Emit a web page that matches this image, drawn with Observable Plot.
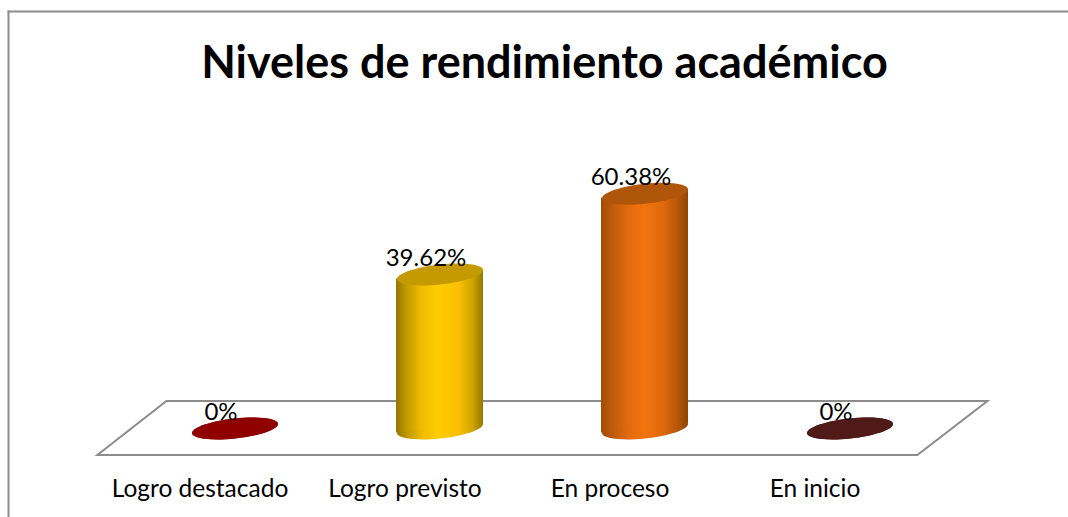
<!DOCTYPE html>
<html>
<head>
<meta charset="utf-8">
<script src="https://cdn.jsdelivr.net/npm/d3@7"></script>
<script src="https://cdn.jsdelivr.net/npm/@observablehq/plot@0.6"></script>
<style>
html,body{margin:0;padding:0;background:#fff;overflow:hidden}
svg{display:block}
</style>
</head>
<body>
<div id="chart"></div>
<script>
const chartTitle = "Niveles de rendimiento académico";
const categories = ["Logro destacado", "Logro previsto", "En proceso", "En inicio"];
const values = [0, 39.62, 60.38, 0];
const valueLabels = ["0%", "39.62%", "60.38%", "0%"];
const bodyColors = ["#8f0000", "url(#grad-yellow)", "url(#grad-orange)", "#4f1a18"];
const capColors = ["#8f0000", "#c49a00", "#b0560a", "#4f1a18"];
const font = "Lato, 'Open Sans', sans-serif";

const rows = categories.map((category, i) => ({
  category, value: values[i], label: valueLabels[i], body: bodyColors[i], cap: capColors[i]
}));

// Sheared ellipse used for the top and the base of each cylinder
const halfW = 43, tilt = 4.5, halfH = 10;
const ellipse = {
  draw(c) {
    const k = 0.5523;
    const pt = (cos, sin) => [halfW * cos, -tilt * cos + halfH * sin];
    const curve = (a, b, e) => c.bezierCurveTo(...pt(...a), ...pt(...b), ...pt(...e));
    c.moveTo(...pt(1, 0));
    curve([1, k], [k, 1], [0, 1]);
    curve([-k, 1], [-1, k], [-1, 0]);
    curve([-1, -k], [-k, -1], [0, -1]);
    curve([k, -1], [1, -k], [1, 0]);
    c.closePath();
  }
};

function gradient(defs, id, stops) {
  const g = defs.append("linearGradient").attr("id", id)
    .attr("x1", 0).attr("x2", 1).attr("y1", 0).attr("y2", 0);
  stops.forEach(([o, col]) => g.append("stop").attr("offset", o).attr("stop-color", col));
}

const gradients = () => {
  const defs = d3.create("svg:defs");
  gradient(defs, "grad-yellow", [[0, "#947600"], [0.12, "#c29a00"], [0.3, "#f0bd00"], [0.48, "#ffcb00"], [0.72, "#f8c000"], [0.88, "#cfa400"], [1, "#957700"]]);
  gradient(defs, "grad-orange", [[0, "#a04c08"], [0.12, "#bd5a0a"], [0.3, "#e06a0e"], [0.5, "#f3740f"], [0.72, "#dd680d"], [0.88, "#b85709"], [1, "#8f4405"]]);
  return defs.node();
};

// Perspective floor, placed from the category scale and the value scale
const floor = (index, { x, y }) => {
  const step = x(categories[1]) - x(categories[0]);
  const c0 = x(categories[0]) + x.bandwidth() / 2;
  const c3 = x(categories[3]) + x.bandwidth() / 2;
  const front = y(-6.95), back = y(6.95);
  const d = d3.path();
  d.moveTo(c0 - 0.669 * step, front);
  d.lineTo(c3 + 0.331 * step, front);
  d.lineTo(c3 + 0.673 * step, back);
  d.lineTo(c0 - 0.332 * step, back);
  d.closePath();
  return d3.create("svg:path").attr("d", d.toString())
    .attr("fill", "#fff").attr("stroke", "#8c8c8c").attr("stroke-width", 2)
    .attr("stroke-linejoin", "miter").node();
};

// Tilts each bar so that its ends follow the ellipses
const tiltBars = (index, scales, vals, dims, context, next) => {
  const g = next(index, scales, vals, dims, context);
  const angle = -Math.atan(tilt / halfW) * 180 / Math.PI;
  d3.select(g).selectAll("rect").each(function () {
    const cx = +this.getAttribute("x") + this.getAttribute("width") / 2;
    this.setAttribute("transform", `translate(${cx},0) skewY(${angle}) translate(${-cx},0)`);
  });
  return g;
};

const plot = Plot.plot({
  width: 1068,
  height: 517,
  marginTop: 11,
  marginLeft: 8,
  marginRight: 0,
  marginBottom: 0,
  style: { background: "#fff", overflow: "hidden" },
  x: { type: "band", domain: categories, range: [132.5, 952.5], paddingInner: 0.5756, paddingOuter: 0.2878, axis: null, align: 0.5 },
  y: { domain: [0, 100], range: [428, 39.3], axis: null },
  color: { type: "identity" },
  marks: [
    gradients,
    Plot.frame({ anchor: "top", stroke: "#8c8c8c", strokeWidth: 2 }),
    Plot.frame({ anchor: "left", stroke: "#8c8c8c", strokeWidth: 2 }),
    Plot.text([chartTitle], { frameAnchor: "top", dx: 6, dy: 52, fontSize: 45, fontWeight: 700, fontFamily: font, fill: "#000", lineAnchor: "middle" }),
    floor,
    Plot.dot(rows, { x: "category", y: 0, symbol: ellipse, fill: "body", stroke: null }),
    Plot.barY(rows, { x: "category", y: "value", fill: "body", render: tiltBars }),
    Plot.dot(rows, { x: "category", y: "value", symbol: ellipse, fill: "cap", stroke: null }),
    Plot.text(rows, { x: "category", y: "value", text: "label", dx: -14, dy: -16, fontSize: 24, fontFamily: font, fill: "#000" }),
    Plot.axisX({ domain: categories, anchor: "bottom", tickSize: 0, tickPadding: 0, dx: -35, dy: -28, fontSize: 24.5, fontFamily: font, color: "#000", label: null, lineAnchor: "middle" })
  ]
});
document.getElementById("chart").appendChild(plot);
</script>
</body>
</html>
